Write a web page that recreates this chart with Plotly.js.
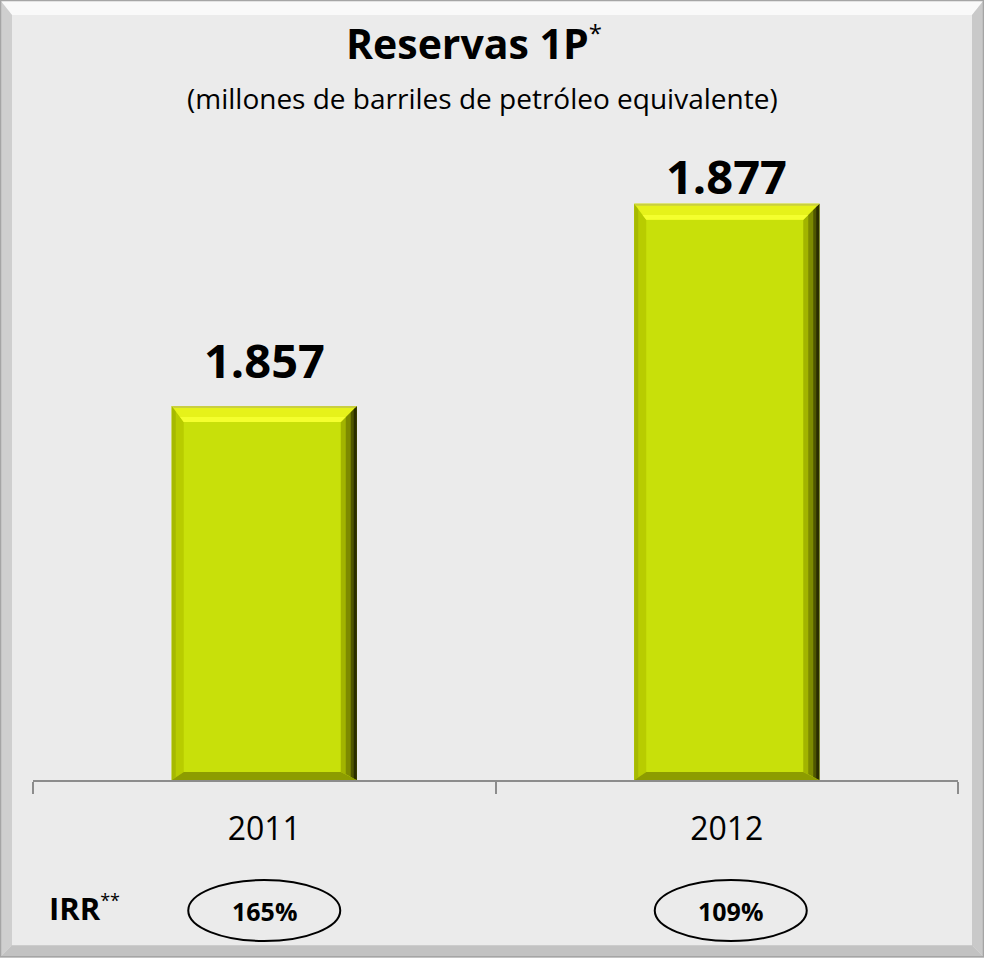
<!DOCTYPE html>
<html>
<head>
<meta charset="utf-8">
<script src="https://cdn.plot.ly/plotly-3.0.1.min.js"></script>
<style>html,body{margin:0;padding:0;background:#ebebeb;}#chart{width:984px;height:958px;}</style>
</head>
<body>
<div id="chart"></div>
<script>
// ---- data ----
const years = ['2011', '2012'];
const reserves = [1857, 1877];
const irr = ['165%', '109%'];
const titleText = 'Reservas 1P';
const subtitleText = '(millones de barriles de petróleo equivalente)';

// ---- layout constants ----
const W = 984, H = 958;
const M = {l: 33, r: 26, t: 140, b: 177.5};
const plotW = W - M.l - M.r, plotH = H - M.t - M.b;
const yRange = [1820, 1883.3];
const u = (yRange[1] - yRange[0]) / plotH; // data units per pixel
const base = yRange[0];
const FONT = 'Open Sans, Lato, DejaVu Sans, sans-serif';
const labelShift = [12, -6];

const px2x = p => (p - M.l) / plotW;
const py2y = p => (H - M.b - p) / plotH;

function fmt(v) { return Math.floor(v / 1000) + '.' + String(v % 1000).padStart(3, '0'); }

const shapes = [];
// chart frame bevel
function framePath(pts, color) {
  shapes.push({type: 'path', xref: 'paper', yref: 'paper', layer: 'below',
    path: 'M' + pts.map(p => px2x(p[0]) + ',' + py2y(p[1])).join(' L') + ' Z',
    fillcolor: color, line: {width: 0}});
}
const fb = 12;
framePath([[0,0],[W,0],[W-fb,fb+3],[fb,fb+3]], '#f9f9f9');
framePath([[0,0],[fb,fb+3],[fb,H-fb],[0,H]], '#cfcfcf');
framePath([[W,0],[W,H],[W-fb,H-fb],[W-fb,fb+3]], '#c9c9c9');
framePath([[0,H],[fb,H-fb],[W-fb,H-fb],[W,H]], '#c2c2c2');
shapes.push({type: 'rect', xref: 'paper', yref: 'paper', layer: 'below',
  x0: px2x(0.5), x1: px2x(W-0.5), y0: py2y(0.5), y1: py2y(H-0.5),
  line: {color: '#a5a5a5', width: 1.5}});

// bar bevels (pixel x relative to category, data y)
const hw = 92.5, sL = 12, sR = 16, tB = 16, bB = 8;
function barPath(i, pts, color) {
  shapes.push({type: 'path', xref: 'x', yref: 'y', xsizemode: 'pixel', xanchor: i, layer: 'above',
    path: 'M' + pts.map(p => p[0] + ',' + p[1]).join(' L') + ' Z',
    fillcolor: color, line: {width: 0}});
}
reserves.forEach((v, i) => {
  const vt = v - tB * u, vb = base + bB * u;
  // left
  barPath(i, [[-hw, v], [-hw + sL, vt], [-hw + sL, vb], [-hw, base]], '#b8cc00');
  barPath(i, [[-hw, v], [-hw + 4, v - 4*u], [-hw + 4, base + 3*u], [-hw, base]], '#a6b900');
  // right
  barPath(i, [[hw, v], [hw - sR, vt], [hw - sR, vb], [hw, base]], '#a2b400');
  barPath(i, [[hw, v], [hw - 11, v - 11*u], [hw - 11, base + 6*u], [hw, base]], '#7d8a00');
  barPath(i, [[hw, v], [hw - 6, v - 6*u], [hw - 6, base + 3*u], [hw, base]], '#4f5600');
  barPath(i, [[hw, v], [hw - 3, v - 3*u], [hw - 3, base + 1.5*u], [hw, base]], '#2a2d00');
  // bottom
  barPath(i, [[-hw, base], [-hw + sL, vb], [hw - sR, vb], [hw, base]], '#8d9c00');
  // top
  barPath(i, [[-hw, v], [hw, v], [hw - sR, vt], [-hw + sL, vt]], '#e6f21a');
  barPath(i, [[-hw + sL*0.7, v - tB*0.7*u], [hw - sR*0.7, v - tB*0.7*u], [hw - sR, vt], [-hw + sL, vt]], '#f4ff2e');
  barPath(i, [[-hw, v], [hw, v], [hw - 2, v - 2*u], [-hw + 2, v - 2*u]], '#c9cf40');
});

// IRR ellipses
irr.forEach((t, i) => {
  shapes.push({type: 'circle', xref: 'x', yref: 'paper', xsizemode: 'pixel', ysizemode: 'pixel',
    xanchor: i, yanchor: 0, x0: -76 + (i ? 4 : 0), x1: 76 + (i ? 4 : 0), y0: -100, y1: -161,
    line: {color: '#000000', width: 2}, layer: 'above'});
});

const annotations = [];
reserves.forEach((v, i) => {
  annotations.push({x: i, y: v, xref: 'x', yref: 'y', text: '<b>' + fmt(v) + '</b>',
    showarrow: false, yanchor: 'bottom', yshift: labelShift[i],
    font: {family: FONT, size: 47, color: '#000000'}});
});
irr.forEach((t, i) => {
  annotations.push({x: i, y: 0, xref: 'x', yref: 'paper', text: '<b>' + t + '</b>',
    showarrow: false, yanchor: 'middle', yshift: -131, xshift: i ? 4 : 0,
    font: {family: FONT, size: 25, color: '#000000'}});
});
annotations.push({x: px2x(47), y: 0, xref: 'paper', yref: 'paper', xanchor: 'left',
  text: '<b>IRR</b><sup><span style="font-size:18px">**</span></sup>', showarrow: false, yanchor: 'middle', yshift: -128,
  font: {family: FONT, size: 31, color: '#000000'}});
annotations.push({x: px2x(482), y: py2y(98), xref: 'paper', yref: 'paper',
  text: subtitleText, showarrow: false, yanchor: 'middle', xanchor: 'center',
  font: {family: FONT, size: 28, color: '#000000'}});

const data = [{
  type: 'bar', x: years, y: reserves,
  marker: {color: '#c8e00a', line: {width: 0}},
  hoverinfo: 'skip'
}];

const layout = {
  width: W, height: H,
  margin: M,
  paper_bgcolor: '#ebebeb', plot_bgcolor: '#ebebeb',
  showlegend: false,
  bargap: 0.6,
  title: {text: '<b>' + titleText + '</b><sup><span style="font-size:24px">*</span></sup>', x: 474 / W, xref: 'container', xanchor: 'center',
    y: 1 - 45 / H, yref: 'container', yanchor: 'middle',
    font: {family: FONT, size: 41, color: '#000000'}},
  xaxis: {type: 'category', showline: true, linecolor: '#8c8c8c', linewidth: 2,
    ticks: 'outside', tickson: 'boundaries', ticklen: 12, tickcolor: '#8c8c8c', tickwidth: 2,
    showgrid: false, zeroline: false, ticklabelstandoff: 20,
    tickfont: {family: FONT, size: 32, color: '#000000'}, fixedrange: true},
  yaxis: {range: yRange, visible: false, showgrid: false, zeroline: false, fixedrange: true},
  shapes: shapes,
  annotations: annotations
};

Plotly.newPlot('chart', data, layout, {displayModeBar: false, staticPlot: true});
</script>
</body>
</html>
